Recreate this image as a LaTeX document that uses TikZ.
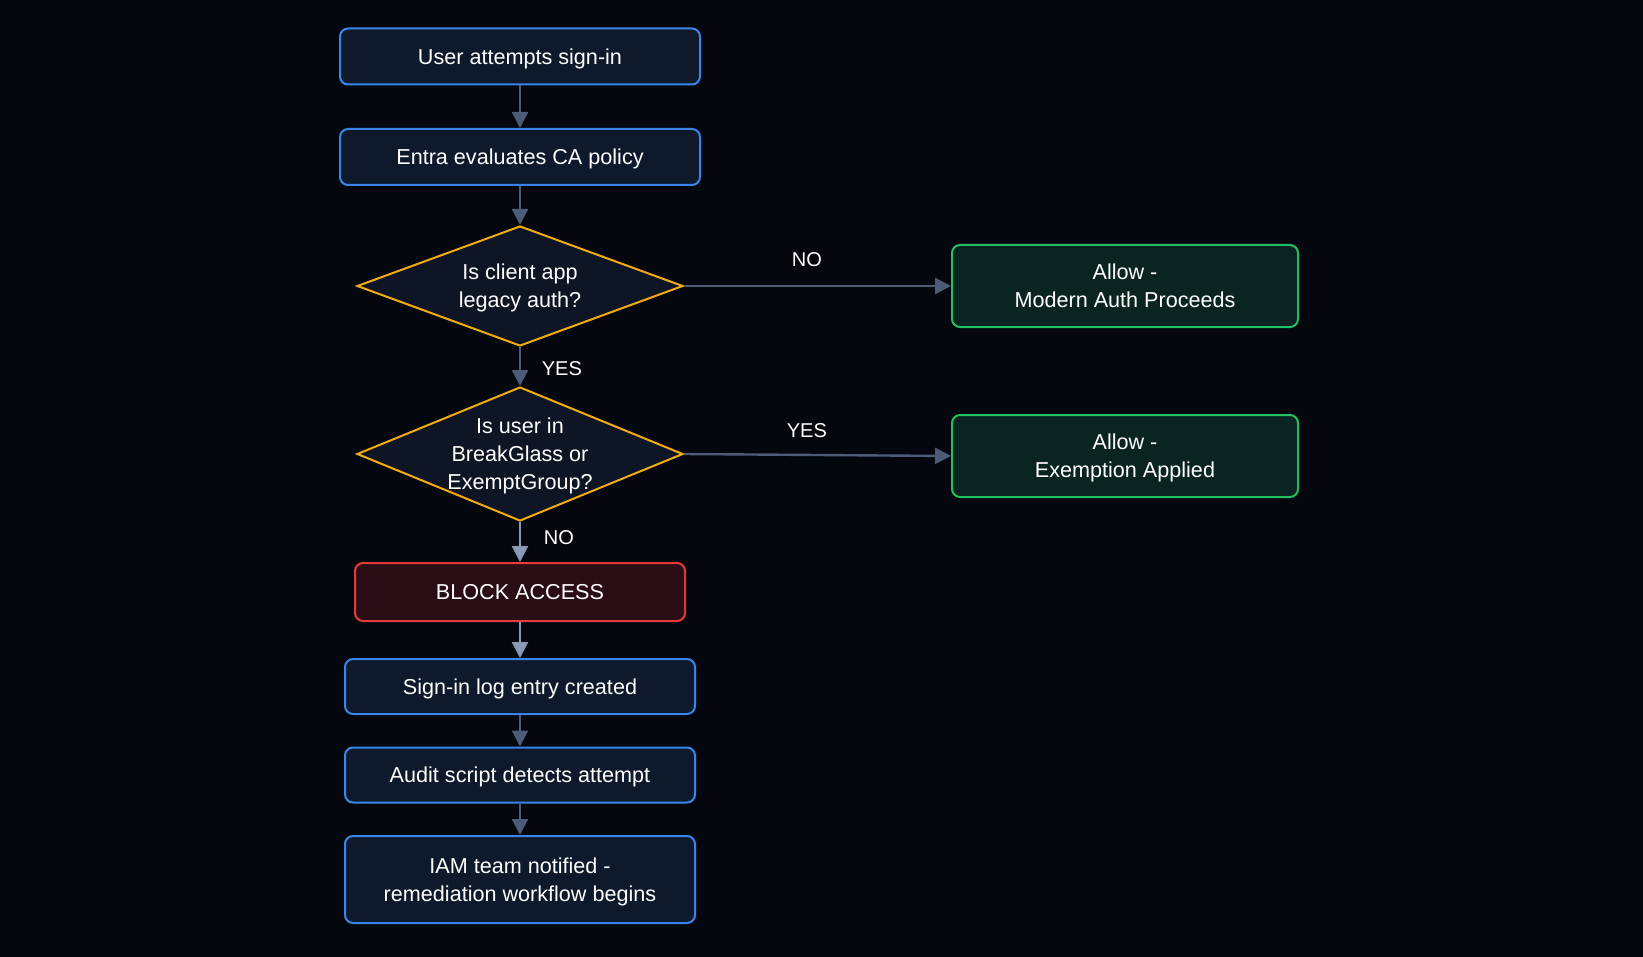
\documentclass[tikz,border=0pt]{standalone}
\usepackage{fontspec}
\setmainfont{Liberation Sans}
\usetikzlibrary{positioning}
\usetikzlibrary{arrows.meta}
\usetikzlibrary{shapes.geometric}
\definecolor{bgdark}{HTML}{05070F}
\definecolor{stepfill}{HTML}{0E1A2C}
\definecolor{stepline}{HTML}{3A85EA}
\definecolor{askfill}{HTML}{0E1524}
\definecolor{askline}{HTML}{F2AC10}
\definecolor{okfill}{HTML}{0A2421}
\definecolor{okline}{HTML}{22C060}
\definecolor{stopfill}{HTML}{2A0D15}
\definecolor{stopline}{HTML}{E53A3A}
\definecolor{flow}{HTML}{4C5B77}
\definecolor{flowlight}{HTML}{8A9AB6}

\begin{document}
\begin{tikzpicture}[x=0.5pt, y=-0.5pt,
    every node/.style={text=white, text depth=0pt, font=\fontsize{10.8}{14}\selectfont},
    stepbox/.style={draw=stepline, fill=stepfill, line width=1pt, rounded corners=4pt,
        align=center, minimum width=180pt, minimum height=28pt},
    askbox/.style={diamond, aspect=2.4, draw=askline, fill=askfill, line width=1pt,
        align=center, inner sep=0pt, minimum width=163pt},
    okbox/.style={draw=okline, fill=okfill, line width=1pt, rounded corners=4pt,
        align=center, minimum width=173pt, minimum height=41pt},
    stopbox/.style={draw=stopline, fill=stopfill, line width=1pt, rounded corners=4pt,
        align=center, minimum width=165pt, minimum height=29pt},
    flowarrow/.style={draw=flow, line width=1.2pt, -{Triangle[length=8pt, width=8pt]}},
    edgelabel/.style={font=\fontsize{10}{12}\selectfont}
]
    % canvas
    \fill[bgdark] (0,0) rectangle (1643,957);
    \useasboundingbox (0,0) rectangle (1643,957);

    % Main column
    \node[stepbox] (user) at (520,56.5) {User attempts sign-in};
    \node[stepbox] (entra) at (520,157) {Entra evaluates CA policy};
    \node[askbox, minimum height=60pt] (legacy) at (520,286) {Is client app\\legacy auth?};
    \node[askbox, minimum height=67pt] (exempt) at (520,454) {Is user in\\BreakGlass or\\ExemptGroup?};
    \node[stopbox] (block) at (520,592) {BLOCK ACCESS};
    \node[stepbox, minimum width=175pt, minimum height=27.5pt] (signlog) at (520,686.5) {Sign-in log entry created};
    \node[stepbox, minimum width=175pt, minimum height=27.5pt] (audit) at (520,775) {Audit script detects attempt};
    \node[stepbox, minimum width=175pt, minimum height=43.5pt] (iam) at (520,879.5) {IAM team notified -\\remediation workflow begins};

    % Allow branches
    \node[okbox] (modern) at (1125,286) {Allow -\\Modern Auth Proceeds};
    \node[okbox] (applied) at (1125,456) {Allow -\\Exemption Applied};

    % Plain steps
    \foreach \a/\b in {user/entra, entra/legacy, signlog/audit, audit/iam} {
        \draw[flowarrow] (\a) -- (\b);
    }

    % Decisions
    \draw[flowarrow] (legacy.east) -- node[edgelabel, pos=0.46, above=6pt] {NO} (modern.west);
    \draw[flowarrow] (legacy.south) -- node[edgelabel, pos=0.55, right=7pt] {YES} (exempt.north);
    \draw[flowarrow] (exempt.east) -- node[edgelabel, pos=0.46, above=5pt] {YES} (applied.west);
    \draw[flowarrow, draw=flowlight] (exempt.south) -- node[edgelabel, pos=0.4, right=8pt] {NO} (block.north);
    \draw[flowarrow, draw=flowlight] (block) -- (signlog);
\end{tikzpicture}
\end{document}
